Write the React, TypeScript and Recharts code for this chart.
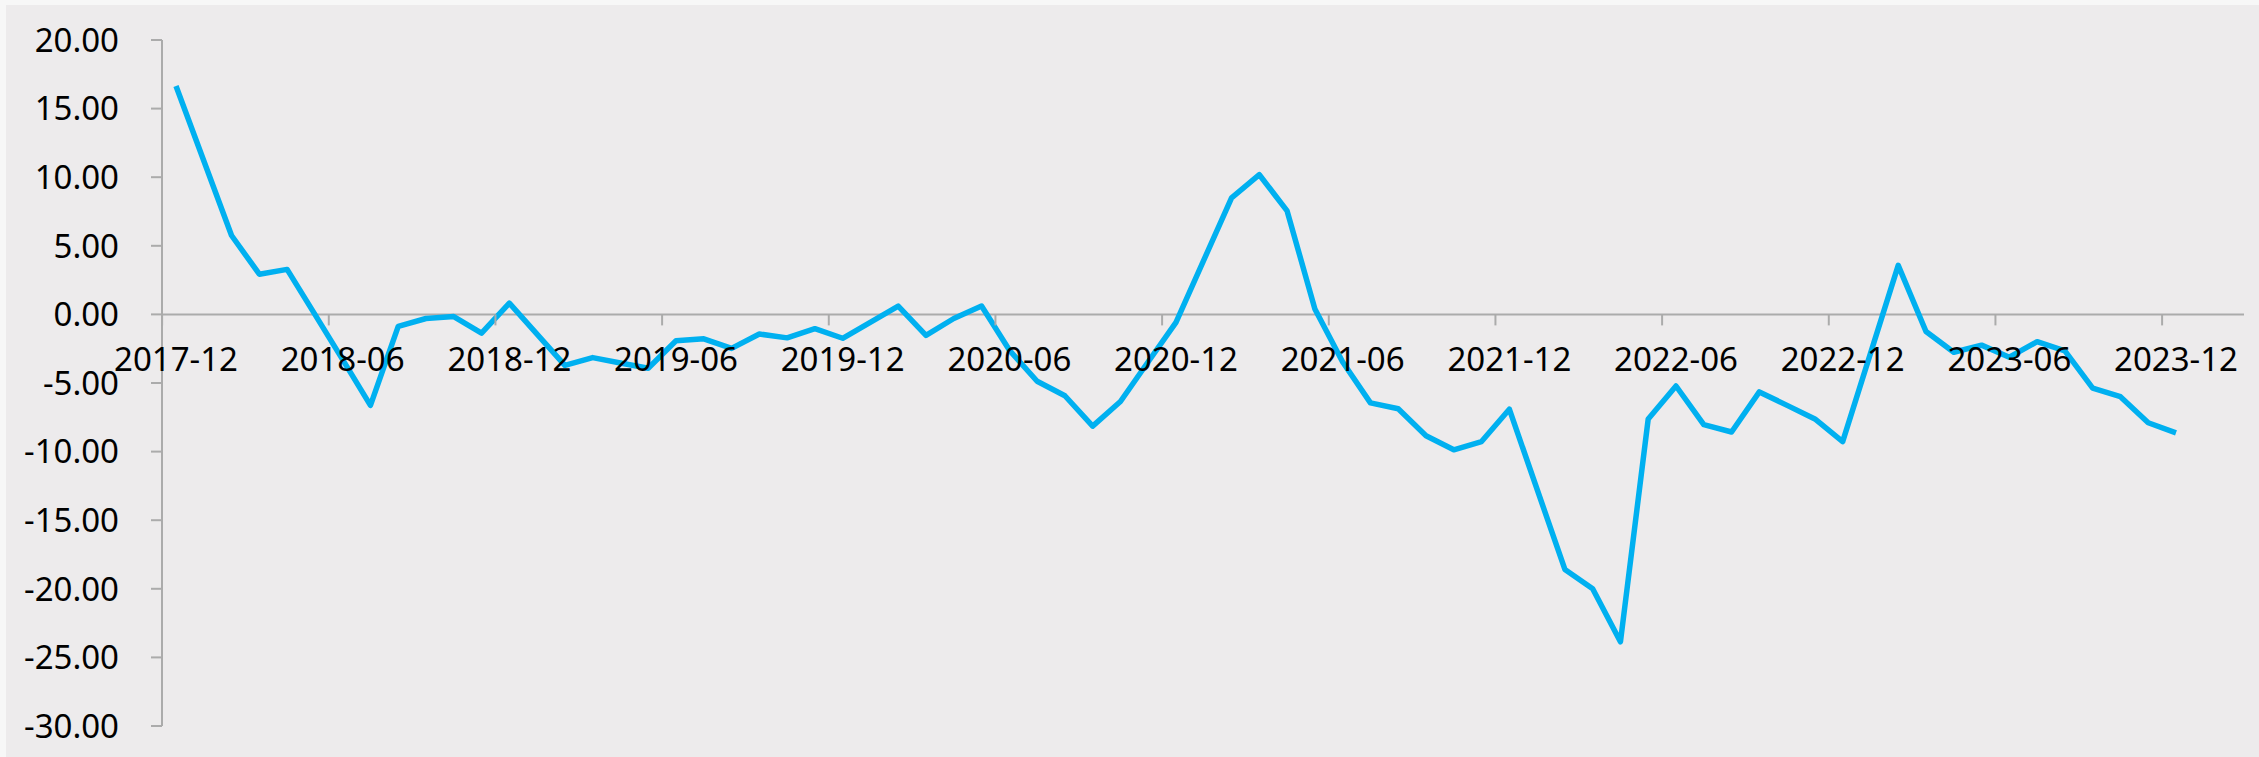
import { LineChart, Line, XAxis, YAxis, ReferenceLine } from "recharts";

const months = [
  "2017-12",
  "2018-01", "2018-02", "2018-03", "2018-04", "2018-05", "2018-06",
  "2018-07", "2018-08", "2018-09", "2018-10", "2018-11", "2018-12",
  "2019-01", "2019-02", "2019-03", "2019-04", "2019-05", "2019-06",
  "2019-07", "2019-08", "2019-09", "2019-10", "2019-11", "2019-12",
  "2020-01", "2020-02", "2020-03", "2020-04", "2020-05", "2020-06",
  "2020-07", "2020-08", "2020-09", "2020-10", "2020-11", "2020-12",
  "2021-01", "2021-02", "2021-03", "2021-04", "2021-05", "2021-06",
  "2021-07", "2021-08", "2021-09", "2021-10", "2021-11", "2021-12",
  "2022-01", "2022-02", "2022-03", "2022-04", "2022-05", "2022-06",
  "2022-07", "2022-08", "2022-09", "2022-10", "2022-11", "2022-12",
  "2023-01", "2023-02", "2023-03", "2023-04", "2023-05", "2023-06",
  "2023-07", "2023-08", "2023-09", "2023-10", "2023-11", "2023-12",
];

// no January figures (Jan-Feb reported together), line is joined across them
const values: (number | null)[] = [
  16.65,
  null, 5.75, 2.93, 3.28, 0.0, -3.3,
  -6.63, -0.87, -0.3, -0.16, -1.36, 0.82,
  null, -3.71, -3.15, -3.54, -3.92, -1.92,
  -1.78, -2.48, -1.43, -1.71, -1.04, -1.74,
  null, 0.61, -1.53, -0.3, 0.61, -2.6,
  -4.87, -5.93, -8.14, -6.35, -3.45, -0.58,
  null, 8.49, 10.18, 7.54, 0.4, -3.47,
  -6.45, -6.88, -8.85, -9.87, -9.27, -6.91,
  null, -18.59, -19.99, -23.86, -7.62, -5.22,
  -8.04, -8.57, -5.65, -6.63, -7.62, -9.27,
  null, 3.57, -1.25, -2.76, -2.24, -3.12,
  -1.99, -2.66, -5.37, -6.0, -7.9, -8.64,
];

const yTicks = [20, 15, 10, 5, 0, -5, -10, -15, -20, -25, -30];

const data = months.map((m, i) => ({ month: m, value: values[i] }));

const W = 2259;
const H = 757;
const TOP = 40;
const LEFT = 162;
const RIGHT = 15;
const X_AXIS_H = 30;
const BOTTOM = 1;
const PAD_L = 14;
const PAD_R = 68;
const PLOT_H = H - TOP - BOTTOM - X_AXIS_H;
const PLOT_W = W - LEFT - RIGHT;
const Y_MAX = 20;
const Y_MIN = -30;
const ZERO_Y = TOP + (PLOT_H * Y_MAX) / (Y_MAX - Y_MIN);
const HALF_STEP = (PLOT_W - PAD_L - PAD_R) / (months.length - 1) / 2;

const AXIS = "#ABABAB";
const FONT = "'Noto Sans', 'Open Sans', sans-serif";

// x labels sit under the zero line, like Excel's "axis crosses at 0"
function MonthTick(props: any) {
  const { x, payload } = props;
  return (
    <g>
      <line
        x1={x - HALF_STEP}
        x2={x - HALF_STEP}
        y1={ZERO_Y}
        y2={ZERO_Y + 11}
        stroke={AXIS}
        strokeWidth={2}
      />
      <text
        x={x}
        y={ZERO_Y + 45}
        dy="0.355em"
        textAnchor="middle"
        fill="#000"
        fontSize={33}
        fontFamily={FONT}
      >
        {payload.value}
      </text>
    </g>
  );
}

export default function App() {
  return (
    <div
      style={{
        position: "absolute",
        left: 0,
        top: 0,
        width: W,
        height: H,
        background: "#F7F7F7",
      }}
    >
      <div
        style={{
          position: "absolute",
          left: 6,
          top: 5,
          width: W - 6,
          height: H - 5,
          background: "#EDEBEC",
        }}
      />
      <div style={{ position: "absolute", left: 0, top: 0 }}>
        <LineChart
          width={W}
          height={H}
          data={data}
          margin={{ top: TOP, right: RIGHT, bottom: BOTTOM, left: 0 }}
        >
          <ReferenceLine y={0} stroke={AXIS} strokeWidth={2} />
          <XAxis
            dataKey="month"
            interval={5}
            height={X_AXIS_H}
            axisLine={false}
            tickLine={false}
            padding={{ left: PAD_L, right: PAD_R }}
            tick={MonthTick}
          />
          <YAxis
            domain={[Y_MIN, Y_MAX]}
            ticks={yTicks}
            interval={0}
            width={LEFT}
            tickSize={11}
            tickMargin={32}
            tickFormatter={(v: number) => v.toFixed(2)}
            axisLine={{ stroke: AXIS, strokeWidth: 2 }}
            tickLine={{ stroke: AXIS, strokeWidth: 2 }}
            tick={{ fill: "#000", fontSize: 33, fontFamily: FONT }}
          />
          <Line
            type="linear"
            dataKey="value"
            stroke="#00B0F0"
            strokeWidth={5.5}
            strokeLinejoin="round"
            dot={false}
            connectNulls
            isAnimationActive={false}
          />
        </LineChart>
      </div>
    </div>
  );
}
